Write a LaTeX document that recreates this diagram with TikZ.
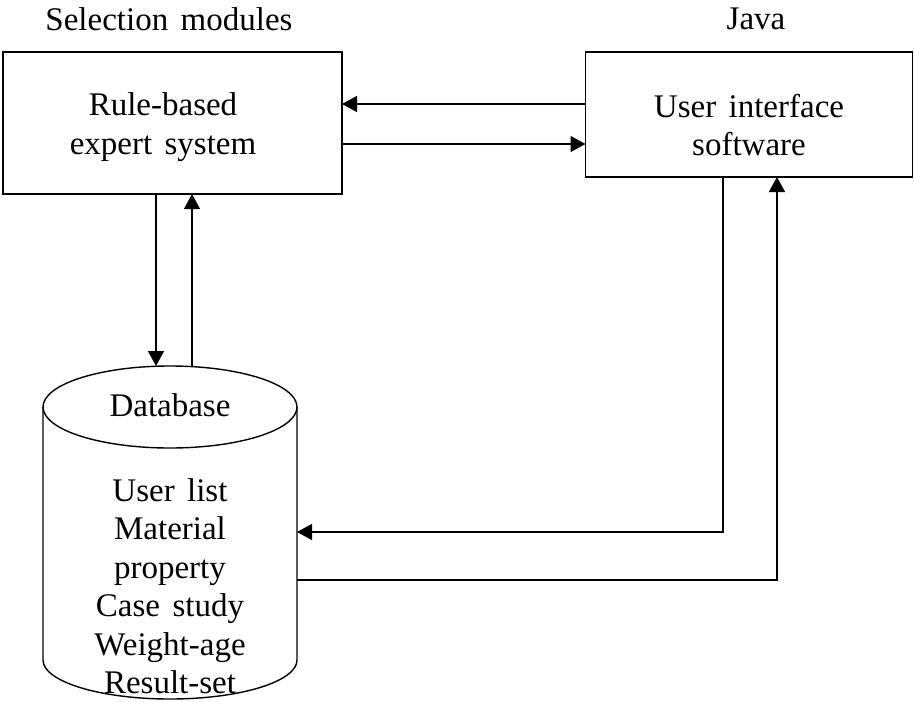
\documentclass[tikz,border=0pt]{standalone}
\usepackage{fontspec}
\setmainfont[WordSpace=1.5]{Liberation Serif}
\usetikzlibrary{arrows.meta}
\begin{document}
\begin{tikzpicture}[x=1pt,y=-1pt,
  line width=1.4pt,
  every node/.style={inner sep=0pt,outer sep=0pt},
  box/.style={draw,rectangle},
  txt/.style={font=\fontsize{33}{38.5}\selectfont,align=center},
  arr/.style={-{Triangle[length=15pt,width=16pt]}}]
\useasboundingbox (0,0) rectangle (914,702);
% titles
\node[txt] (t1) at (169,19) {Selection modules};
\node[txt] (t2) at (756,19) {Java};
% boxes
\node[box,minimum width=339pt,minimum height=142pt] (rb) at (172.5,123) {};
\node[txt] (rbt) at (163,127) {Rule-based\\expert\ system};
\node[box,minimum width=327pt,minimum height=125pt] (ui) at (749,114.5) {};
\node[txt] (uit) at (749,125) {User interface\\software};
% database cylinder
\node[minimum width=254pt,minimum height=253pt] (db) at (170,533.5) {};
\draw (db.north west) -- (db.south west)
  arc[start angle=180,end angle=0,x radius=127,y radius=39] -- (db.north east);
\draw (db.north) ellipse[x radius=127,y radius=41];
\node[txt] (dbt) at (170,405) {Database};
\node[txt] (dbl) at (170,586) {User list\\Material\\property\\Case study\\Weight-age\\Result-set};
% connector anchors
\coordinate (ya) at (0,104);
\coordinate (yb) at (0,144);
\coordinate (xa) at (156,366);
\coordinate (xb) at (192,366);
\coordinate (c1) at (723,532);
\coordinate (c2) at (777,580);
% connectors
\draw[arr] (ui.west |- ya) -- (rb.east |- ya);
\draw[arr] (rb.east |- yb) -- (ui.west |- yb);
\draw[arr] (rb.south -| xa) -- (xa);
\draw[arr] (xb) -- (rb.south -| xb);
\draw[arr] (ui.south -| c1) -- (c1) -- (db.east |- c1);
\draw[arr] (db.east |- c2) -- (c2) -- (ui.south -| c2);
\end{tikzpicture}
\end{document}
